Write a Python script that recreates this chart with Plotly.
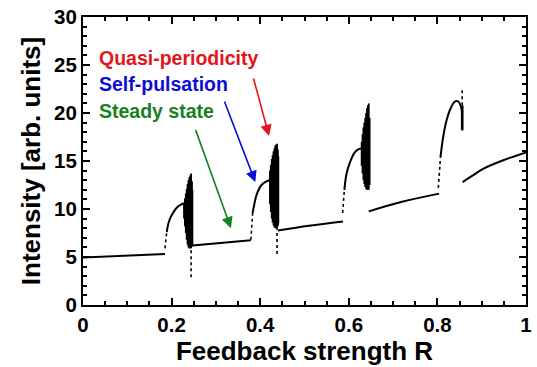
import plotly.graph_objects as go

# ---------------- data ----------------
# steady-state branches
steady1_x = [0.0, 0.185]
steady1_y = [4.95, 5.3]
steady2_x = [0.247, 0.379]
steady2_y = [6.2, 6.75]
steady3_x = [0.440, 0.51, 0.587]
steady3_y = [7.75, 8.25, 8.7]
steady4_x = [0.645, 0.72, 0.804]
steady4_y = [9.75, 10.75, 11.6]
steady5_x = [0.857, 0.88, 0.904, 0.95, 1.0]
steady5_y = [12.8, 13.5, 14.2, 15.1, 15.9]

# self-pulsation branches: sparse onset part and solid part
sp1_dot_x = [0.185, 0.189]
sp1_dot_y = [5.9, 7.6]
sp1_x = [0.189, 0.194, 0.202, 0.213, 0.223, 0.228]
sp1_y = [7.6, 8.7, 9.5, 10.2, 10.5, 10.6]
sp2_dot_x = [0.379, 0.383]
sp2_dot_y = [6.8, 9.6]
sp2_x = [0.383, 0.385, 0.392, 0.403, 0.415, 0.422]
sp2_y = [9.6, 10.1, 11.5, 12.5, 12.9, 13.0]
sp3_dot_x = [0.586, 0.590]
sp3_dot_y = [9.6, 12.0]
sp3_x = [0.590, 0.595, 0.603, 0.612, 0.621, 0.629]
sp3_y = [12.0, 13.7, 14.9, 15.8, 16.2, 16.3]
sp4_dot_x = [0.802, 0.807]
sp4_dot_y = [12.2, 15.4]
sp4_x = [0.807, 0.813, 0.821, 0.830, 0.840, 0.847, 0.853, 0.856]
sp4_y = [15.4, 17.5, 19.3, 20.5, 21.2, 21.2, 20.7, 20.0]

# quasi-periodic bands: dense column extents
qp1_x = [0.228, 0.230, 0.232, 0.234, 0.236, 0.238, 0.240, 0.242, 0.244, 0.246, 0.247]
qp1_lo = [9.0, 8.2, 7.5, 6.8, 6.3, 6.0, 5.9, 5.9, 5.9, 6.1, 6.2]
qp1_hi = [10.6, 11.1, 11.6, 12.1, 12.6, 13.0, 13.3, 13.5, 13.7, 12.9, 12.0]
qp2_x = [0.422, 0.424, 0.426, 0.428, 0.430, 0.432, 0.434, 0.436, 0.438, 0.440, 0.441]
qp2_lo = [10.5, 9.7, 9.0, 8.6, 8.3, 8.1, 8.0, 8.0, 8.0, 8.2, 8.5]
qp2_hi = [14.0, 14.6, 15.2, 15.6, 16.0, 16.3, 16.6, 16.7, 16.8, 16.2, 15.5]
qp3_x = [0.629, 0.631, 0.633, 0.635, 0.637, 0.639, 0.641, 0.643, 0.645, 0.647]
qp3_lo = [14.5, 13.7, 13.0, 12.6, 12.3, 12.1, 12.0, 12.0, 12.0, 12.5]
qp3_hi = [17.0, 17.8, 18.5, 19.0, 19.5, 20.0, 20.5, 20.8, 21.0, 19.5]
qp4_x = [0.855, 0.857]
qp4_lo = [18.2, 18.2]
qp4_hi = [20.5, 20.8]

# sparse dotted tails of the bands
tail_x = [0.244, 0.438, 0.856]
tail_lo = [2.9, 5.3, 20.8]
tail_hi = [5.9, 8.0, 22.6]

# labels
x_tickvals = [0, 0.2, 0.4, 0.6, 0.8, 1.0]
x_ticktext = ["0", "0.2", "0.4", "0.6", "0.8", "1"]
y_tickvals = [0, 5, 10, 15, 20, 25, 30]
labels = ["Quasi-periodicity", "Self-pulsation", "Steady state"]
label_colors = ["rgb(228,20,26)", "rgb(12,12,215)", "rgb(22,128,30)"]
label_x = [0.031, 0.031, 0.031]
label_y = [25.7, 23.0, 20.2]
arrow_tail_x = [0.384, 0.318, 0.253]
arrow_tail_y = [23.75, 21.35, 18.4]
arrow_tip_x = [0.420, 0.389, 0.334]
arrow_tip_y = [17.6, 12.8, 8.0]


def columns(xs, lo, hi):
    cx, cy = [], []
    for x, a, b in zip(xs, lo, hi):
        cx += [x, x, None]
        cy += [a, b, None]
    return cx, cy


fig = go.Figure()
BLACK = "black"

for sx, sy in [(steady1_x, steady1_y), (steady2_x, steady2_y), (steady3_x, steady3_y),
               (steady4_x, steady4_y), (steady5_x, steady5_y),
               (sp1_x, sp1_y), (sp2_x, sp2_y), (sp3_x, sp3_y), (sp4_x, sp4_y)]:
    fig.add_trace(go.Scatter(x=sx, y=sy, mode="lines", line=dict(color=BLACK, width=2, shape="spline"),
                             showlegend=False, hoverinfo="skip"))

for sx, sy in [(sp1_dot_x, sp1_dot_y), (sp2_dot_x, sp2_dot_y), (sp3_dot_x, sp3_dot_y), (sp4_dot_x, sp4_dot_y)]:
    fig.add_trace(go.Scatter(x=sx, y=sy, mode="lines", line=dict(color=BLACK, width=1.6, dash="dot"),
                             showlegend=False, hoverinfo="skip"))

for bx, lo, hi in [(qp1_x, qp1_lo, qp1_hi), (qp2_x, qp2_lo, qp2_hi), (qp3_x, qp3_lo, qp3_hi), (qp4_x, qp4_lo, qp4_hi)]:
    cx, cy = columns(bx, lo, hi)
    fig.add_trace(go.Scatter(x=cx, y=cy, mode="lines", line=dict(color=BLACK, width=1.8),
                             showlegend=False, hoverinfo="skip"))

tx, ty = columns(tail_x, tail_lo, tail_hi)
fig.add_trace(go.Scatter(x=tx, y=ty, mode="lines", line=dict(color=BLACK, width=1.6, dash="dot"),
                         showlegend=False, hoverinfo="skip"))

FONT = "Arial, Liberation Sans, sans-serif"
for t, c, x, y in zip(labels, label_colors, label_x, label_y):
    fig.add_annotation(x=x, y=y, text=t, showarrow=False, xanchor="left", yanchor="middle",
                       font=dict(family=FONT, size=19.5, color=c, weight="bold"))
for c, x0, y0, x1, y1 in zip(label_colors, arrow_tail_x, arrow_tail_y, arrow_tip_x, arrow_tip_y):
    fig.add_annotation(x=x1, y=y1, ax=x0, ay=y0, xref="x", yref="y", axref="x", ayref="y",
                       text="", showarrow=True, arrowhead=2, arrowsize=1.4, arrowwidth=1.6,
                       arrowcolor=c)

axis_common = dict(showline=True, linecolor=BLACK, linewidth=2, mirror="allticks",
                   ticks="inside", ticklen=7, tickwidth=2, tickcolor=BLACK,
                   showgrid=False, zeroline=False, automargin=False,
                   tickfont=dict(family=FONT, size=20.5, color=BLACK, weight="bold"))

minor_x = dict(dtick=0.05, tick0=0, ticks="inside", ticklen=4, tickwidth=1.5, tickcolor=BLACK)
minor_y = dict(dtick=1, tick0=0, ticks="inside", ticklen=4, tickwidth=1.5, tickcolor=BLACK)

fig.update_layout(
    xaxis=dict(range=[0, 1], tickvals=x_tickvals, ticktext=x_ticktext, minor=minor_x,
               title=dict(text="Feedback strength R", standoff=4,
                          font=dict(family=FONT, size=26, color=BLACK, weight="bold")),
               **axis_common),
    yaxis=dict(range=[0, 30], tickvals=y_tickvals, minor=minor_y,
               title=dict(text="Intensity [arb. units]", standoff=6,
                          font=dict(family=FONT, size=26, color=BLACK, weight="bold")),
               **axis_common),
    # overlay axes to carry the mirrored minor ticks on top and right
    xaxis2=dict(overlaying="x", side="top", range=[0, 1], tickvals=x_tickvals, showticklabels=False,
                ticks="inside", ticklen=7, tickwidth=2, tickcolor=BLACK, minor=minor_x,
                showgrid=False, zeroline=False, showline=False, automargin=False),
    yaxis2=dict(overlaying="y", side="right", range=[0, 30], tickvals=y_tickvals, showticklabels=False,
                ticks="inside", ticklen=7, tickwidth=2, tickcolor=BLACK, minor=minor_y,
                showgrid=False, zeroline=False, showline=False, automargin=False),
    width=537, height=367, margin=dict(l=83, r=11, t=17, b=62),
    paper_bgcolor="white", plot_bgcolor="white", showlegend=False,
)
# an invisible trace so the overlay axes are drawn
fig.add_trace(go.Scatter(x=[None], y=[None], xaxis="x2", yaxis="y2", showlegend=False, hoverinfo="skip"))

fig.write_html("out.html", config={"displayModeBar": False},
               post_script="document.body.style.margin='0';document.body.style.padding='0';")
